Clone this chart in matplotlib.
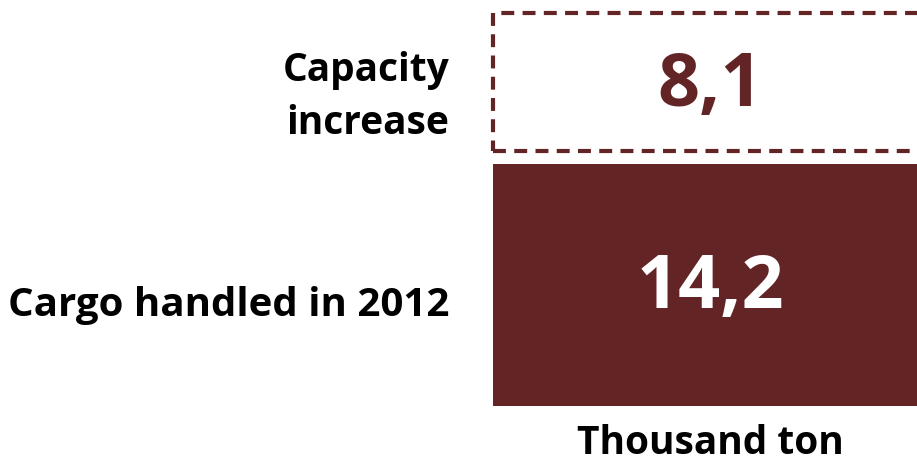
import matplotlib.pyplot as plt

plt.rcParams['font.family'] = ['Open Sans', 'DejaVu Sans']
plt.rcParams['font.weight'] = 'bold'

# Port throughput (thousand ton)
labels = ['Cargo handled in 2012', 'Capacity\nincrease']
values = [14.2, 8.1]

color = '#632426'
gap = 0.8  # visual space between the two blocks

fig = plt.figure(figsize=(9.17, 4.61), dpi=100)
ax = fig.add_axes([493 / 917, 55 / 461, 434 / 917, 393 / 461])

# Existing cargo: solid block
ax.bar(0, values[0], width=1, align='edge', color=color, edgecolor='none')
# Added capacity: dashed outline stacked on top
ax.bar(0, values[1], bottom=values[0] + gap, width=1, align='edge',
       fill=False, edgecolor=color, linewidth=3,
       linestyle=(0, (3.1, 2.0)), clip_on=False)

ax.set_xlim(0, 1)
ax.set_ylim(0, values[0] + gap + values[1])
ax.axis('off')

def fmt(v):
    return f'{v:.1f}'.replace('.', ',')

ax.text(0.5, values[0] / 2 - 0.2, fmt(values[0]), ha='center', va='center',
        fontsize=53, fontweight='bold', color='white')
ax.text(0.5, values[0] + gap + values[1] / 2 - 0.3, fmt(values[1]),
        ha='center', va='center', fontsize=53, fontweight='bold', color=color)

# Category labels to the left of the blocks
ax.text(-0.1, values[0] / 2 - 1.2, labels[0], ha='right', va='center',
        fontsize=29, fontweight='bold', color='black',
        transform=ax.get_yaxis_transform())
ax.text(-0.1, values[0] + gap + values[1] / 2 - 0.9, labels[1], ha='right',
        va='center', fontsize=28, fontweight='bold', color='black',
        linespacing=1.45, transform=ax.get_yaxis_transform())

ax.text(0.5, -0.045, 'Thousand ton', ha='center', va='top', fontsize=28,
        fontweight='bold', color='black', transform=ax.transAxes)

fig.savefig('out.png', dpi=100)
